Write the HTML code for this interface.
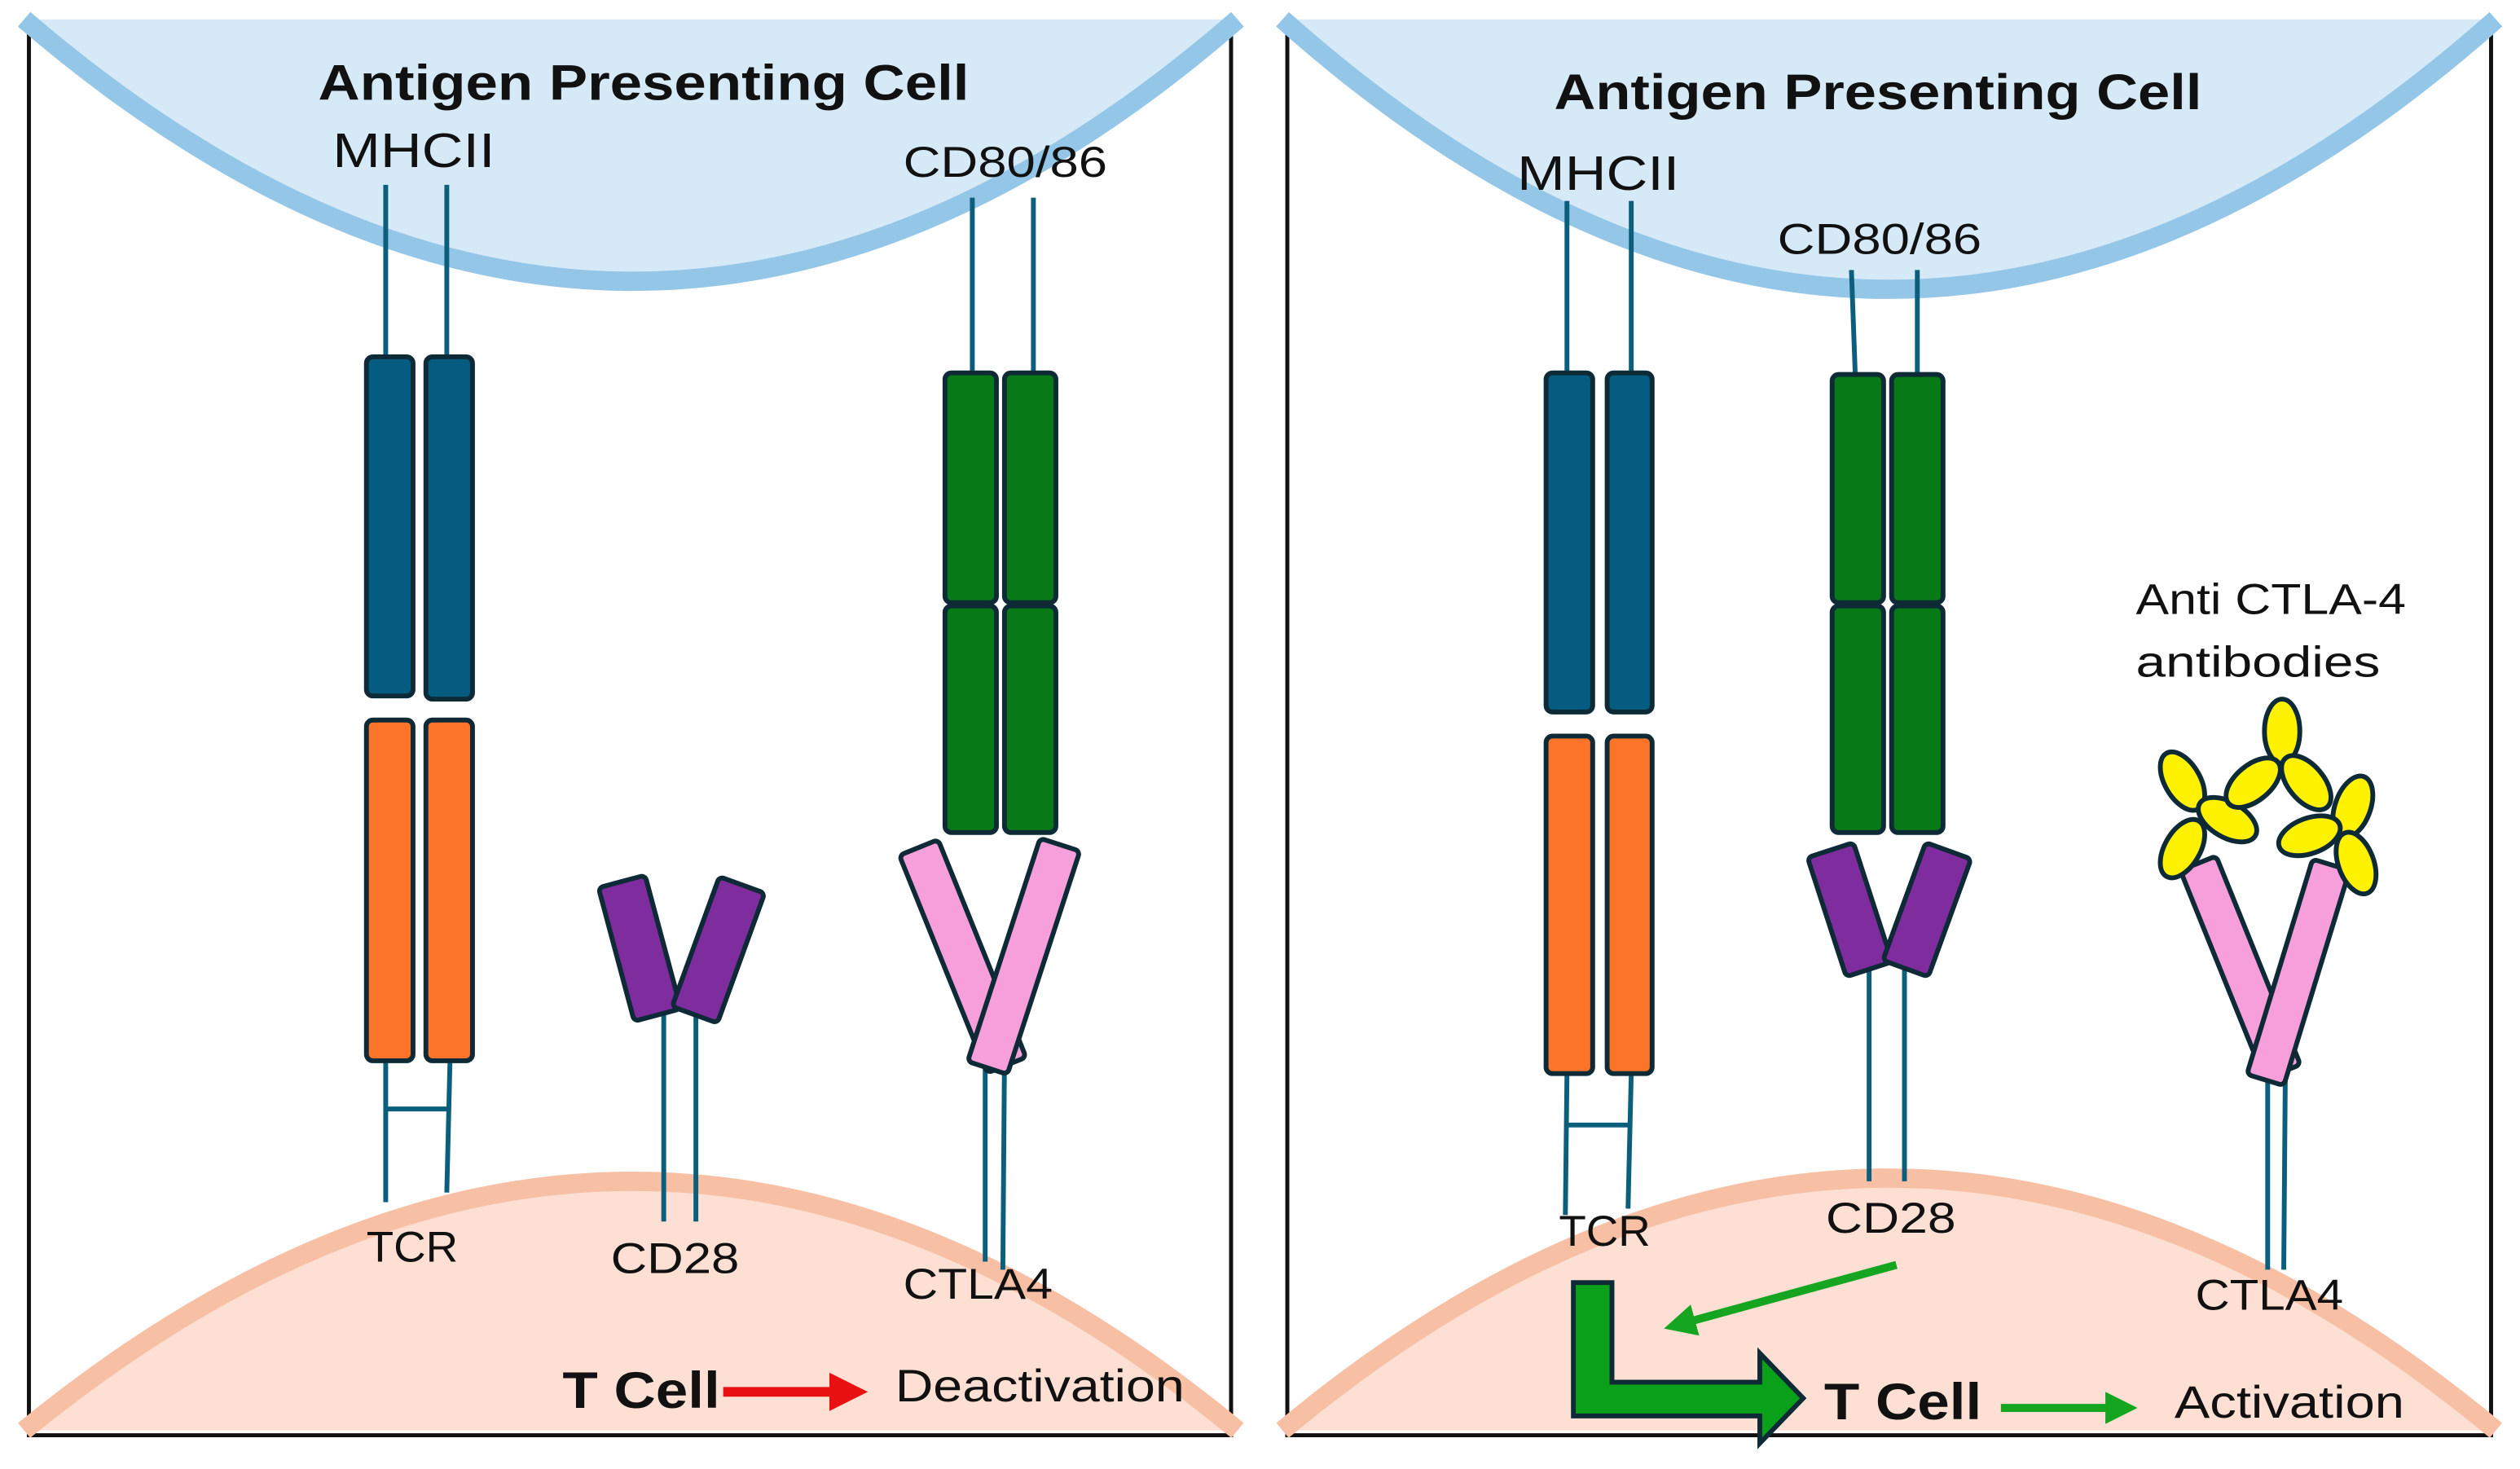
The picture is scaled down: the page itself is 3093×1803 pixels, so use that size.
<!DOCTYPE html>
<html><head><meta charset="utf-8"><style>html,body{margin:0;padding:0;background:#fff}svg{display:block}</style></head>
<body>
<svg width="3093" height="1803" viewBox="0 0 1568 914" xmlns="http://www.w3.org/2000/svg" font-family="Liberation Sans, sans-serif">
<defs>
<marker id="ar" markerWidth="4" markerHeight="4" refX="2" refY="2" orient="auto" markerUnits="strokeWidth"><path d="M0,0 L4,2 L0,4z" fill="#e81010"/></marker>
<marker id="ag" markerWidth="4" markerHeight="4" refX="2" refY="2" orient="auto" markerUnits="strokeWidth"><path d="M0,0 L4,2 L0,4z" fill="#15a520"/></marker>
</defs>
<rect width="1568" height="914" fill="#fff"/>
<!-- LEFT PANEL -->
<path d="M18,14 V893 H766 V14" fill="none" stroke="#111" stroke-width="2.5"/>
<path d="M15,12 Q395,338 770,12 Z" fill="#d6e9f7"/>
<path d="M15,12 Q395,338 770,12" fill="none" stroke="#94c6e8" stroke-width="12"/>
<path d="M15,890 Q395,580 770,890 Z" fill="#fde0d3"/>
<path d="M15,890 Q395,580 770,890" fill="none" stroke="#f7bfa3" stroke-width="12"/>
<text x="198" y="62" font-size="31" font-weight="bold" fill="#111" textLength="405" lengthAdjust="spacingAndGlyphs">Antigen Presenting Cell</text>
<text x="207" y="104" font-size="30" fill="#111" textLength="101" lengthAdjust="spacingAndGlyphs">MHCII</text>
<g stroke="#0b5e7c" stroke-width="3" fill="none">
<line x1="240" y1="115" x2="240" y2="225"/><line x1="278" y1="115" x2="278" y2="225"/>
<line x1="240" y1="660" x2="240" y2="748"/><line x1="280" y1="660" x2="278" y2="742"/><line x1="240" y1="690" x2="279" y2="690"/>
<line x1="605" y1="123" x2="605" y2="250"/><line x1="643" y1="123" x2="643" y2="250"/>
<line x1="413" y1="630" x2="413" y2="760"/><line x1="433" y1="630" x2="433" y2="760"/>
<line x1="613" y1="660" x2="613" y2="785"/><line x1="625" y1="660" x2="624" y2="790"/>
</g>
<g stroke="#0d2a36" stroke-width="3">
<rect x="228" y="222" width="29" height="211" rx="4" fill="#045d80"/>
<rect x="265" y="222" width="29" height="213" rx="4" fill="#045d80"/>
<rect x="228" y="448" width="29" height="212" rx="4" fill="#fb7429"/>
<rect x="265" y="448" width="29" height="212" rx="4" fill="#fb7429"/>
<rect x="588" y="232" width="32" height="143" rx="4" fill="#077a17"/>
<rect x="625" y="232" width="32" height="143" rx="4" fill="#077a17"/>
<rect x="588" y="377" width="32" height="141" rx="4" fill="#077a17"/>
<rect x="625" y="377" width="32" height="141" rx="4" fill="#077a17"/>
<rect x="-15" y="-43" width="30" height="86" rx="3" fill="#7f2c9e" transform="translate(398,590) rotate(-15)"/>
<rect x="-15" y="-43" width="30" height="86" rx="3" fill="#7f2c9e" transform="translate(447,591) rotate(20)"/>
<rect x="-13" y="-73" width="26" height="146" rx="3" fill="#f79fdb" transform="translate(599,595) rotate(-22)"/>
<rect x="-13" y="-73" width="26" height="146" rx="3" fill="#f79fdb" transform="translate(637,595) rotate(18)"/>
</g>
<text x="228" y="785" font-size="27" fill="#111" textLength="57" lengthAdjust="spacingAndGlyphs">TCR</text>
<text x="380" y="792" font-size="27" fill="#111" textLength="80" lengthAdjust="spacingAndGlyphs">CD28</text>
<text x="562" y="110" font-size="27" fill="#111" textLength="127" lengthAdjust="spacingAndGlyphs">CD80/86</text>
<text x="562" y="808" font-size="27" fill="#111" textLength="93" lengthAdjust="spacingAndGlyphs">CTLA4</text>
<text x="350" y="876" font-size="32" font-weight="bold" fill="#111" textLength="98" lengthAdjust="spacingAndGlyphs">T Cell</text>
<line x1="450" y1="866" x2="528" y2="866" stroke="#e81010" stroke-width="6" marker-end="url(#ar)"/>
<text x="557" y="872" font-size="28" fill="#111" textLength="180" lengthAdjust="spacingAndGlyphs">Deactivation</text>

<!-- RIGHT PANEL -->
<path d="M801,14 V893 H1550 V14" fill="none" stroke="#111" stroke-width="2.5"/>
<path d="M798,12 Q1175,348 1553,12 Z" fill="#d6e9f7"/>
<path d="M798,12 Q1175,348 1553,12" fill="none" stroke="#94c6e8" stroke-width="12"/>
<path d="M798,890 Q1175,576 1553,890 Z" fill="#fde0d3"/>
<path d="M798,890 Q1175,576 1553,890" fill="none" stroke="#f7bfa3" stroke-width="12"/>
<text x="967" y="68" font-size="31" font-weight="bold" fill="#111" textLength="403" lengthAdjust="spacingAndGlyphs">Antigen Presenting Cell</text>
<text x="944" y="118" font-size="30" fill="#111" textLength="101" lengthAdjust="spacingAndGlyphs">MHCII</text>
<text x="1106" y="158" font-size="27" fill="#111" textLength="127" lengthAdjust="spacingAndGlyphs">CD80/86</text>
<g stroke="#0b5e7c" stroke-width="3" fill="none">
<line x1="975" y1="125" x2="975" y2="235"/><line x1="1015" y1="125" x2="1015" y2="235"/>
<line x1="975" y1="668" x2="974" y2="756"/><line x1="1015" y1="668" x2="1013" y2="752"/><line x1="975" y1="700" x2="1014" y2="700"/>
<line x1="1152" y1="168" x2="1155" y2="250"/><line x1="1193" y1="168" x2="1193" y2="250"/>
<line x1="1163" y1="600" x2="1163" y2="735"/><line x1="1185" y1="600" x2="1185" y2="735"/>
<line x1="1411" y1="665" x2="1411" y2="790"/><line x1="1422" y1="665" x2="1421" y2="790"/>
</g>
<g stroke="#0d2a36" stroke-width="3">
<rect x="962" y="232" width="29" height="211" rx="4" fill="#045d80"/>
<rect x="1000" y="232" width="28" height="211" rx="4" fill="#045d80"/>
<rect x="962" y="458" width="29" height="210" rx="4" fill="#fb7429"/>
<rect x="1000" y="458" width="28" height="210" rx="4" fill="#fb7429"/>
<rect x="1140" y="233" width="32" height="142" rx="4" fill="#077a17"/>
<rect x="1177" y="233" width="32" height="142" rx="4" fill="#077a17"/>
<rect x="1140" y="377" width="32" height="141" rx="4" fill="#077a17"/>
<rect x="1177" y="377" width="32" height="141" rx="4" fill="#077a17"/>
<rect x="-15" y="-39" width="30" height="78" rx="3" fill="#7f2c9e" transform="translate(1151,566) rotate(-18)"/>
<rect x="-15" y="-39" width="30" height="78" rx="3" fill="#7f2c9e" transform="translate(1199,566) rotate(20)"/>
<rect x="-12" y="-70" width="24" height="140" rx="3" fill="#f79fdb" transform="translate(1394,602) rotate(-22)"/>
<rect x="-12" y="-70" width="24" height="140" rx="3" fill="#f79fdb" transform="translate(1430,605) rotate(17)"/>
<g fill="#fff200">
<ellipse cx="1358" cy="486" rx="11" ry="20" transform="rotate(-30 1358 486)"/>
<ellipse cx="1358" cy="528" rx="11" ry="20" transform="rotate(30 1358 528)"/>
<ellipse cx="1386" cy="510" rx="11" ry="20" transform="rotate(-60 1386 510)"/>
<ellipse cx="1420" cy="455" rx="11" ry="20"/>
<ellipse cx="1402" cy="487" rx="11" ry="20" transform="rotate(50 1402 487)"/>
<ellipse cx="1435" cy="487" rx="11" ry="20" transform="rotate(-40 1435 487)"/>
<ellipse cx="1464" cy="502" rx="11" ry="20" transform="rotate(20 1464 502)"/>
<ellipse cx="1466" cy="537" rx="11" ry="20" transform="rotate(-20 1466 537)"/>
<ellipse cx="1437" cy="520" rx="11" ry="20" transform="rotate(70 1437 520)"/>
</g>
</g>
<text x="970" y="775" font-size="27" fill="#111" textLength="57" lengthAdjust="spacingAndGlyphs">TCR</text>
<text x="1136" y="767" font-size="27" fill="#111" textLength="81" lengthAdjust="spacingAndGlyphs">CD28</text>
<text x="1366" y="815" font-size="27" fill="#111" textLength="92" lengthAdjust="spacingAndGlyphs">CTLA4</text>
<text x="1329" y="382" font-size="27" fill="#111" textLength="168" lengthAdjust="spacingAndGlyphs">Anti CTLA-4</text>
<text x="1329" y="421" font-size="27" fill="#111" textLength="152" lengthAdjust="spacingAndGlyphs">antibodies</text>
<line x1="1180" y1="787" x2="1045" y2="824" stroke="#15a520" stroke-width="5" marker-end="url(#ag)"/>
<path d="M979,798 H1003 V860 H1095 V842 L1122,870 L1095,898 V881 H979 Z" fill="#0ba01a" stroke="#0d2a36" stroke-width="3" stroke-linejoin="miter"/>
<text x="1135" y="883" font-size="32" font-weight="bold" fill="#111" textLength="98" lengthAdjust="spacingAndGlyphs">T Cell</text>
<line x1="1245" y1="876" x2="1320" y2="876" stroke="#15a520" stroke-width="5" marker-end="url(#ag)"/>
<text x="1353" y="882" font-size="28" fill="#111" textLength="143" lengthAdjust="spacingAndGlyphs">Activation</text>
</svg>
</body></html>
